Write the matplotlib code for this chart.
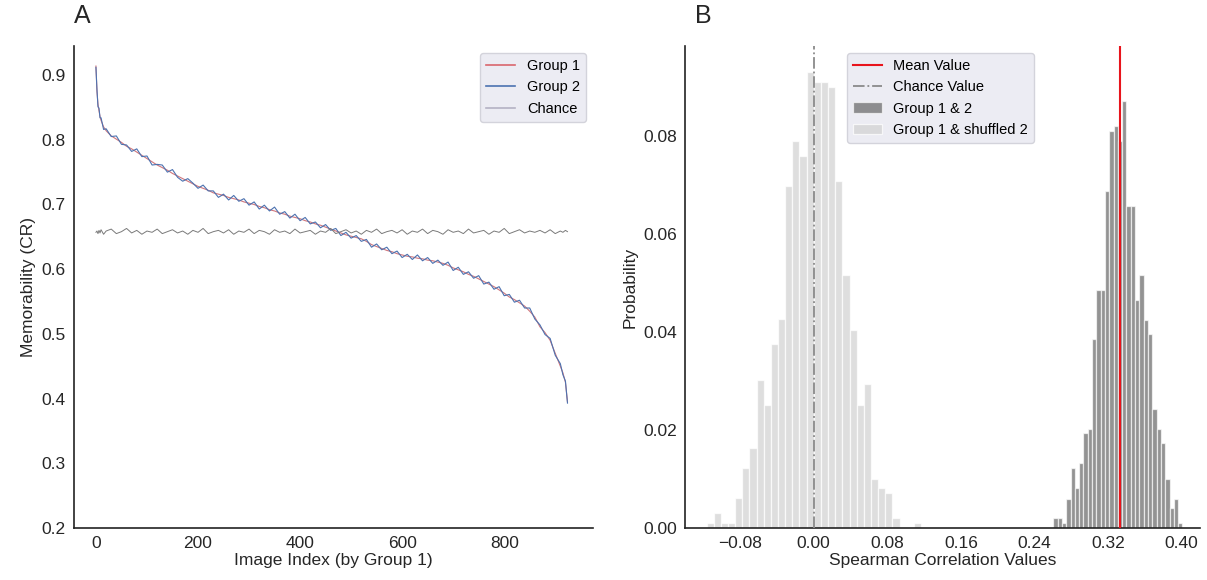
import numpy as np
import matplotlib
matplotlib.use("Agg")
import matplotlib.pyplot as plt
from matplotlib.ticker import FixedLocator, FuncFormatter

plt.rcParams['font.family'] = ['Liberation Sans', 'DejaVu Sans']
plt.rcParams['axes.unicode_minus'] = True

# ---------------- Panel A data ----------------
image_index = [0, 2, 4, 6, 8, 10, 15, 20,
               30, 40, 50, 60, 70, 80, 90, 100, 110, 120,
               130, 140, 150, 160, 170, 180, 190, 200, 210, 220,
               230, 240, 250, 260, 270, 280, 290, 300, 310, 320,
               330, 340, 350, 360, 370, 380, 390, 400, 410, 420,
               430, 440, 450, 460, 470, 480, 490, 500, 510, 520,
               530, 540, 550, 560, 570, 580, 590, 600, 610, 620,
               630, 640, 650, 660, 670, 680, 690, 700, 710, 720,
               730, 740, 750, 760, 770, 780, 790, 800, 810, 820,
               830, 840, 850, 860, 870, 880, 890, 900, 910, 915,
               920, 924]

group1 = [0.914, 0.875, 0.855, 0.845, 0.836, 0.830, 0.820, 0.814,
          0.806, 0.801, 0.796, 0.790, 0.786, 0.781, 0.776, 0.771, 0.766, 0.761,
          0.757, 0.753, 0.748, 0.744, 0.740, 0.736, 0.732, 0.728, 0.725, 0.722,
          0.718, 0.716, 0.714, 0.711, 0.709, 0.707, 0.704, 0.702, 0.700, 0.697,
          0.695, 0.692, 0.690, 0.687, 0.685, 0.682, 0.680, 0.678, 0.675, 0.673,
          0.670, 0.668, 0.665, 0.662, 0.659, 0.656, 0.653, 0.651, 0.649, 0.647,
          0.643, 0.638, 0.635, 0.632, 0.629, 0.627, 0.624, 0.622, 0.620, 0.619,
          0.617, 0.616, 0.614, 0.613, 0.611, 0.609, 0.606, 0.602, 0.599, 0.596,
          0.592, 0.589, 0.585, 0.581, 0.577, 0.573, 0.568, 0.563, 0.557, 0.553,
          0.548, 0.543, 0.535, 0.526, 0.511, 0.502, 0.490, 0.470, 0.450, 0.440,
          0.425, 0.395]

group2 = [0.912, 0.878, 0.851, 0.849, 0.834, 0.834, 0.816, 0.817,
          0.805, 0.806, 0.793, 0.792, 0.782, 0.786, 0.774, 0.775, 0.761, 0.762,
          0.761, 0.750, 0.754, 0.742, 0.736, 0.740, 0.733, 0.725, 0.730, 0.721,
          0.721, 0.711, 0.716, 0.707, 0.714, 0.705, 0.709, 0.699, 0.704, 0.693,
          0.699, 0.690, 0.696, 0.685, 0.689, 0.679, 0.685, 0.675, 0.680, 0.670,
          0.673, 0.664, 0.669, 0.660, 0.663, 0.652, 0.657, 0.648, 0.652, 0.643,
          0.646, 0.634, 0.639, 0.630, 0.634, 0.624, 0.628, 0.618, 0.623, 0.615,
          0.622, 0.613, 0.618, 0.609, 0.614, 0.606, 0.611, 0.598, 0.603, 0.592,
          0.596, 0.586, 0.590, 0.577, 0.580, 0.569, 0.573, 0.559, 0.561, 0.549,
          0.552, 0.540, 0.540, 0.523, 0.514, 0.499, 0.493, 0.467, 0.454, 0.437,
          0.427, 0.393]

chance = [0.657, 0.659, 0.655, 0.660, 0.656, 0.661, 0.654, 0.659,
          0.662, 0.655, 0.658, 0.663, 0.656, 0.660, 0.654, 0.659, 0.657, 0.662,
          0.655, 0.658, 0.661, 0.656, 0.659, 0.654, 0.660, 0.657, 0.663, 0.655,
          0.658, 0.660, 0.656, 0.661, 0.654, 0.659, 0.657, 0.662, 0.655, 0.660,
          0.658, 0.654, 0.661, 0.657, 0.659, 0.655, 0.662, 0.656, 0.658, 0.660,
          0.654, 0.659, 0.657, 0.663, 0.655, 0.658, 0.661, 0.656, 0.659, 0.654,
          0.660, 0.657, 0.662, 0.655, 0.658, 0.660, 0.656, 0.661, 0.654, 0.659,
          0.657, 0.662, 0.655, 0.660, 0.658, 0.654, 0.661, 0.657, 0.659, 0.655,
          0.662, 0.656, 0.658, 0.660, 0.654, 0.659, 0.657, 0.663, 0.655, 0.658,
          0.661, 0.656, 0.659, 0.657, 0.660, 0.656, 0.661, 0.655, 0.659, 0.657,
          0.660, 0.658]

# ---------------- Panel B data ----------------
shuffled_bin_start = -0.1165
shuffled_bin_width = 0.00777
shuffled_prob = [0.0010, 0.0031, 0.0010, 0.0010, 0.0061, 0.0122, 0.0163, 0.0303,
                 0.0252, 0.0375, 0.0426, 0.0699, 0.0790, 0.0759, 0.0931, 0.0911,
                 0.0911, 0.0901, 0.0709, 0.0516, 0.0405, 0.0252, 0.0294, 0.0101,
                 0.0081, 0.0071, 0.0020, 0.0000, 0.0000, 0.0010]

pair_bin_start = 0.2605
pair_bin_width = 0.00468
pair_prob = [0.0020, 0.0020, 0.0010, 0.0060, 0.0122, 0.0081, 0.0132, 0.0193,
             0.0203, 0.0385, 0.0486, 0.0486, 0.0688, 0.0810, 0.0820, 0.0790,
             0.0871, 0.0658, 0.0658, 0.0465, 0.0516, 0.0424, 0.0395, 0.0243,
             0.0203, 0.0173, 0.0101, 0.0040, 0.0060, 0.0010]

mean_value = 0.333
chance_value = 0.0
b_xticks = [-0.08, 0.00, 0.08, 0.16, 0.24, 0.32, 0.40]
b_yticks = [0.00, 0.02, 0.04, 0.06, 0.08]
a_yticks = [0.2, 0.3, 0.4, 0.5, 0.6, 0.7, 0.8, 0.9]
a_xticks = [0, 200, 400, 600, 800]

# ---------------- Figure ----------------
fig = plt.figure(figsize=(12.07, 5.8), dpi=100)
axA = fig.add_axes([0.0613, 0.0897, 0.4300, 0.8310])
axB = fig.add_axes([0.5675, 0.0897, 0.4267, 0.8310])

legend_kw = dict(facecolor='#EAEAF2', edgecolor='#D0D0D8', framealpha=0.9,
                 fontsize=10.5, fancybox=True)

for ax in (axA, axB):
    for s in ('top', 'right'):
        ax.spines[s].set_visible(False)
    for s in ('left', 'bottom'):
        ax.spines[s].set_color('#222222')
        ax.spines[s].set_linewidth(1.2)
    ax.tick_params(length=0, labelsize=12.5, pad=6, colors='#262626')

# Panel A
axA.plot(image_index, group1, color='#D0767C', lw=0.8, label='Group 1')
axA.plot(image_index, group2, color='#4C72B0', lw=0.8, label='Group 2')
axA.plot(image_index, chance, color='#7A7A7A', lw=0.7, label='Chance')
axA.set_ylim(0.2, 0.945)
axA.set_xlim(-43, 974)
axA.yaxis.set_major_locator(FixedLocator(a_yticks))
axA.xaxis.set_major_locator(FixedLocator(a_xticks))
axA.yaxis.set_major_formatter(FuncFormatter(lambda v, p: f"{v:.1f}"))
axA.set_xlabel('Image Index (by Group 1)', fontsize=12.5, labelpad=1, color='#262626')
axA.set_ylabel('Memorability (CR)', fontsize=12.5, labelpad=4, color='#262626')
legA = axA.legend(loc='upper right', **legend_kw)
for ln, c in zip(legA.get_lines(), ['#D9666D', '#4C72B0', '#B4B2C4']):
    ln.set_color(c)
    ln.set_linewidth(1.2)
axA.text(0.0, 1.037, 'A', transform=axA.transAxes, fontsize=18, color='#262626',
         ha='left', va='bottom')

# Panel B
sh_edges = shuffled_bin_start + shuffled_bin_width * np.arange(len(shuffled_prob))
pr_edges = pair_bin_start + pair_bin_width * np.arange(len(pair_prob))
axB.bar(pr_edges, pair_prob, width=pair_bin_width, align='edge',
        color='#5A5A5A', alpha=0.65, edgecolor='white', linewidth=0.9,
        label='Group 1 & 2', zorder=2)
axB.bar(sh_edges, shuffled_prob, width=shuffled_bin_width, align='edge',
        color='#D3D3D3', alpha=0.75, edgecolor='white', linewidth=0.9,
        label='Group 1 & shuffled 2', zorder=2)
axB.axvline(mean_value, color='#E8141C', lw=1.5, label='Mean Value', zorder=3)
axB.axvline(chance_value, color='#8A8A8A', lw=1.3, ls='-.', label='Chance Value', zorder=3)
axB.set_xlim(-0.140, 0.420)
axB.set_ylim(0, 0.0984)
axB.xaxis.set_major_locator(FixedLocator(b_xticks))
axB.yaxis.set_major_locator(FixedLocator(b_yticks))
axB.xaxis.set_major_formatter(FuncFormatter(lambda v, p: f"{v:.2f}".replace('-', '\u2212')))
axB.yaxis.set_major_formatter(FuncFormatter(lambda v, p: f"{v:.2f}"))
axB.set_xlabel('Spearman Correlation Values', fontsize=12.5, labelpad=1, color='#262626')
axB.set_ylabel('Probability', fontsize=12.5, labelpad=4, color='#262626')
h, l = axB.get_legend_handles_labels()
order = [l.index(n) for n in ['Mean Value', 'Chance Value', 'Group 1 & 2', 'Group 1 & shuffled 2']]
axB.legend([h[i] for i in order], [l[i] for i in order], loc='upper left',
           bbox_to_anchor=(0.30, 1.0), **legend_kw)
axB.text(0.02, 1.037, 'B', transform=axB.transAxes, fontsize=18, color='#262626',
         ha='left', va='bottom')

fig.savefig('out.png', dpi=100)
